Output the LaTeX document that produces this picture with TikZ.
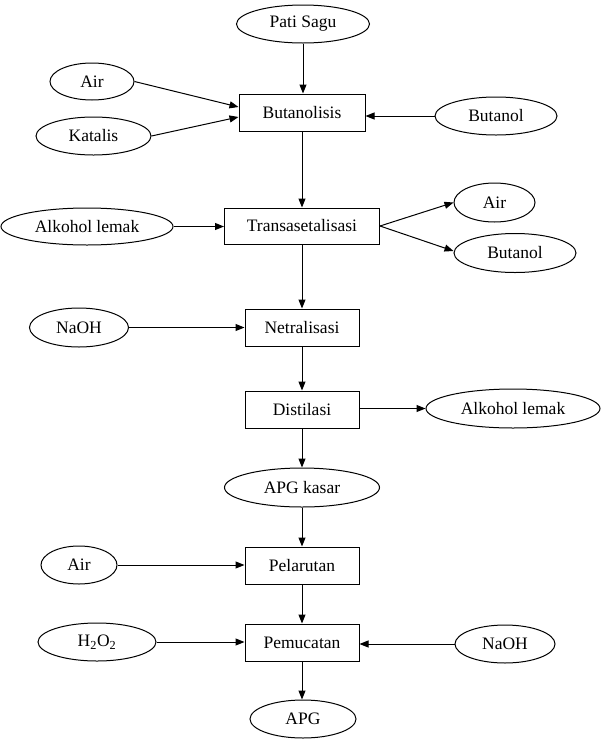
\documentclass[tikz,border=0pt]{standalone}
\usepackage{fontspec}
\setmainfont{Liberation Serif}
\usetikzlibrary{shapes.geometric,arrows.meta}
\begin{document}
\begin{tikzpicture}[x=1pt,y=-1pt,
  font=\fontsize{17.5}{20}\selectfont,
  line width=1pt,
  proc/.style={draw, rectangle, inner sep=0pt},
  mat/.style={draw, ellipse, inner sep=0pt},
  arr/.style={-{Triangle[length=9pt,width=7pt]}}]
\useasboundingbox (0,0) rectangle (601,745);
% process boxes
\node[proc, minimum width=126pt, minimum height=37pt] (but) at (302,112.5) {Butanolisis};
\node[proc, minimum width=155pt, minimum height=36pt] (trans) at (302,226) {Transasetalisasi};
\node[proc, minimum width=114pt, minimum height=37pt] (net) at (302,327.5) {Netralisasi};
\node[proc, minimum width=114pt, minimum height=37pt] (dist) at (302,409.5) {Distilasi};
\node[proc, minimum width=114pt, minimum height=37pt] (pel) at (302,565.5) {Pelarutan};
\node[proc, minimum width=114pt, minimum height=37pt] (pem) at (302,642.5) {Pemucatan};
% material ellipses
\node[mat, minimum width=133pt, minimum height=38pt] (pati) at (303,24) {Pati Sagu};
\node[mat, minimum width=84pt, minimum height=37pt] (air1) at (92,81.5) {Air};
\node[mat, minimum width=115pt, minimum height=38pt] (kat) at (93.5,136) {Katalis};
\node[mat, minimum width=122pt, minimum height=38pt] (buta1) at (496,116) {Butanol};
\node[mat, minimum width=172pt, minimum height=37pt] (alk1) at (87,226.5) {Alkohol lemak};
\node[mat, minimum width=81pt, minimum height=39pt] (air2) at (494.5,202.5) {Air};
\node[mat, minimum width=122pt, minimum height=39pt] (buta2) at (515,253) {Butanol};
\node[mat, minimum width=99pt, minimum height=39pt] (naoh1) at (79,327.5) {NaOH};
\node[mat, minimum width=174pt, minimum height=39pt] (alk2) at (513,408.5) {Alkohol lemak};
\node[mat, minimum width=155pt, minimum height=39pt] (apgk) at (302,487.5) {APG kasar};
\node[mat, minimum width=76pt, minimum height=38pt] (air3) at (79,565) {Air};
\node[mat, minimum width=118pt, minimum height=38pt] (h2o2) at (97,642) {H\textsubscript{2}O\textsubscript{2}};
\node[mat, minimum width=100pt, minimum height=38pt] (naoh2) at (505,644) {NaOH};
\node[mat, minimum width=106pt, minimum height=38pt] (apg) at (303,719) {APG};
% connectors
\draw[arr] (pati) -- (pati |- but.north);
\draw[arr] (air1.east) -- ([yshift=5.5pt]but.west);
\draw[arr] (kat.east) -- ([yshift=-4.5pt]but.west);
\draw[arr] (buta1.west) -- (buta1.west -| but.east);
\draw[arr] (but) -- (trans);
\draw[arr] (alk1.east) -- (alk1.east -| trans.west);
\draw[arr] (trans.east) -- (air2.west);
\draw[arr] (trans.east) -- ([yshift=2pt]buta2.west);
\draw[arr] (trans) -- (net);
\draw[arr] (naoh1.east) -- (naoh1.east -| net.west);
\draw[arr] (net) -- (dist);
\draw[arr] (dist.east |- alk2.west) -- (alk2.west);
\draw[arr] (dist) -- (apgk);
\draw[arr] (apgk) -- (pel);
\draw[arr] (air3.east) -- (air3.east -| pel.west);
\draw[arr] (pel) -- (pem);
\draw[arr] (h2o2.east) -- (h2o2.east -| pem.west);
\draw[arr] (naoh2.west) -- (naoh2.west -| pem.east);
\draw[arr] (pem) -- (pem |- apg.north);
\end{tikzpicture}
\end{document}
